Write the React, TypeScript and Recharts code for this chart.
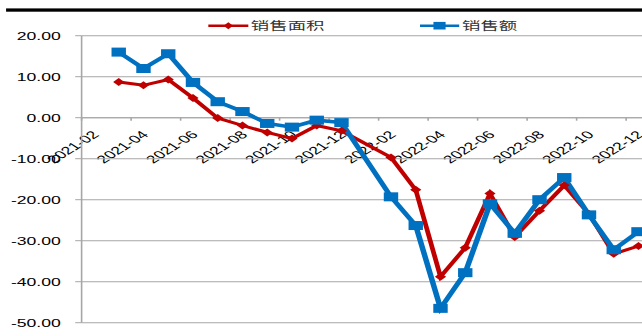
import React from "react";
import { LineChart, Line, XAxis, YAxis, CartesianGrid } from "recharts";

// Monthly categories on the horizontal axis
const MONTHS = [
  "2021-02", "2021-03", "2021-04", "2021-05", "2021-06", "2021-07", "2021-08",
  "2021-09", "2021-10", "2021-11", "2021-12", "2022-01", "2022-02", "2022-03",
  "2022-04", "2022-05", "2022-06", "2022-07", "2022-08", "2022-09", "2022-10",
  "2022-11", "2022-12",
];

// 销售面积 year-on-year change (%)
const AREA: (number | null)[] = [
  null, 8.7, 7.9, 9.3, 4.8, -0.1, -1.9, -3.6, -5.1, -1.9, -3.2, null,
  -9.7, -17.6, -38.8, -31.7, -18.5, -29.1, -22.7, -16.5, -23.5, -33.2, -31.3,
];

// 销售额 year-on-year change (%)
const AMOUNT: (number | null)[] = [
  null, 16.0, 12.0, 15.6, 8.6, 3.9, 1.5, -1.4, -2.3, -0.6, -1.2, null,
  -19.3, -26.3, -46.5, -37.8, -21.0, -28.2, -20.0, -14.6, -23.7, -32.2, -27.8,
];

const Y_TICKS = [20, 10, 0, -10, -20, -30, -40, -50];
const SERIES_NAMES = ["销售面积", "销售额"];

const RED = "#C00000";
const BLUE = "#0070C0";
const GRID = "#A6A6A6";
const FONT = "'Liberation Sans', Arial, sans-serif";
const CJK = "'Noto Sans CJK SC', sans-serif";

// The chart is laid out narrow and stretched horizontally.
const STRETCH = 1.6;
const W = 410;
const H = 336;
const PLOT_LEFT = 51;
const PLOT_W = 355.8;
const RIGHT = W - PLOT_LEFT - PLOT_W;
const PLOT_TOP = 35.7;
const PLOT_BOTTOM = 322.7;
const ZERO_Y = 117.7;
const HALF_BAND = PLOT_W / MONTHS.length / 2;

const rows = MONTHS.map((m, i) => ({
  idx: i,
  month: m,
  area: AREA[i],
  amount: AMOUNT[i],
}));

// tick marks sit on category boundaries, every second month
const X_TICKS = MONTHS.map((_, i) => i - 0.5).filter((_, i) => i % 2 === 0);

const DiamondDot = (props: any) => {
  const { cx, cy, payload } = props;
  if (cx == null || cy == null || payload?.area == null) return null;
  return (
    <polygon
      points={`${cx},${cy - 4} ${cx + 3.5},${cy} ${cx},${cy + 4} ${cx - 3.5},${cy}`}
      fill={RED}
    />
  );
};

const SquareDot = (props: any) => {
  const { cx, cy, payload } = props;
  if (cx == null || cy == null || payload?.amount == null) return null;
  return <rect x={cx - 4.5} y={cy - 4.5} width={9} height={9} fill={BLUE} />;
};

const MonthTick = (props: any) => {
  const { x, payload } = props;
  const label = MONTHS[Math.round(payload.value + 0.5)];
  if (!label) return null;
  const ax = x + HALF_BAND + 1;
  const ay = ZERO_Y + 15;
  return (
    <text
      x={ax}
      y={ay}
      dy="0.35em"
      textAnchor="end"
      transform={`rotate(-45 ${ax} ${ay})`}
      fontSize={11}
      fontFamily={FONT}
      fill="#000"
    >
      {label}
    </text>
  );
};

export default function App() {
  return (
    <div
      style={{
        position: "absolute",
        left: 0,
        top: 0,
        width: 642,
        height: 336,
        overflow: "hidden",
        background: "#fff",
      }}
    >
      <div
        style={{
          position: "absolute",
          left: 0,
          top: 0,
          width: W,
          height: H,
          transform: `scaleX(${STRETCH})`,
          transformOrigin: "0 0",
        }}
      >
        {/* category axis crossing at zero */}
        <div style={{ position: "absolute", left: 0, top: 0 }}>
          <LineChart
            width={W}
            height={H}
            data={rows}
            margin={{ top: PLOT_TOP, right: RIGHT, bottom: H - ZERO_Y - 60, left: PLOT_LEFT }}
          >
            <XAxis
              type="number"
              dataKey="idx"
              domain={[-0.5, MONTHS.length - 0.5]}
              ticks={X_TICKS}
              interval={0}
              height={60}
              tickSize={3}
              stroke={GRID}
              tickLine={{ stroke: GRID }}
              axisLine={{ stroke: GRID }}
              tick={<MonthTick />}
              allowDataOverflow
            />
          </LineChart>
        </div>

        {/* value axis, grid and series */}
        <div style={{ position: "absolute", left: 0, top: 0 }}>
          <LineChart
            width={W}
            height={H}
            data={rows}
            margin={{ top: PLOT_TOP, right: RIGHT, bottom: H - PLOT_BOTTOM, left: 0 }}
          >
            <CartesianGrid vertical={false} stroke={GRID} />
            <XAxis
              type="number"
              dataKey="idx"
              domain={[-0.5, MONTHS.length - 0.5]}
              hide
              allowDataOverflow
            />
            <YAxis
              width={PLOT_LEFT}
              domain={[-50, 20]}
              ticks={Y_TICKS}
              interval={0}
              tickFormatter={(v: number) => v.toFixed(2)}
              tickSize={4}
              tickMargin={9}
              tickLine={{ stroke: GRID }}
              axisLine={{ stroke: GRID }}
              tick={{ fontSize: 11, fontFamily: FONT, fill: "#000" }}
            />
            <Line
              type="linear"
              dataKey="area"
              name={SERIES_NAMES[0]}
              stroke={RED}
              strokeWidth={3}
              connectNulls
              dot={<DiamondDot />}
              activeDot={false}
              isAnimationActive={false}
            />
            <Line
              type="linear"
              dataKey="amount"
              name={SERIES_NAMES[1]}
              stroke={BLUE}
              strokeWidth={3.5}
              connectNulls
              dot={<SquareDot />}
              activeDot={false}
              isAnimationActive={false}
            />
          </LineChart>
        </div>

        {/* header rule and legend */}
        <svg
          width={W}
          height={40}
          style={{ position: "absolute", left: 0, top: 0, pointerEvents: "none" }}
        >
          <rect x={3.8} y={8.4} width={W} height={3.3} fill="#000" />
          <line x1={130.2} x2={155.2} y1={25.7} y2={25.7} stroke={RED} strokeWidth={2.5} />
          <polygon points="142.7,22.2 145.7,25.7 142.7,29.2 139.7,25.7" fill={RED} />
          <text x={156.8} y={25.7} dy="0.35em" fontSize={11.5} fontFamily={CJK} fill="#333">
            {SERIES_NAMES[0]}
          </text>
          <line x1={262.5} x2={287} y1={25.7} y2={25.7} stroke={BLUE} strokeWidth={2.5} />
          <rect x={270.9} y={21.9} width={7.6} height={7.6} fill={BLUE} />
          <text x={288.8} y={25.7} dy="0.35em" fontSize={11.5} fontFamily={CJK} fill="#333">
            {SERIES_NAMES[1]}
          </text>
        </svg>
      </div>
    </div>
  );
}
